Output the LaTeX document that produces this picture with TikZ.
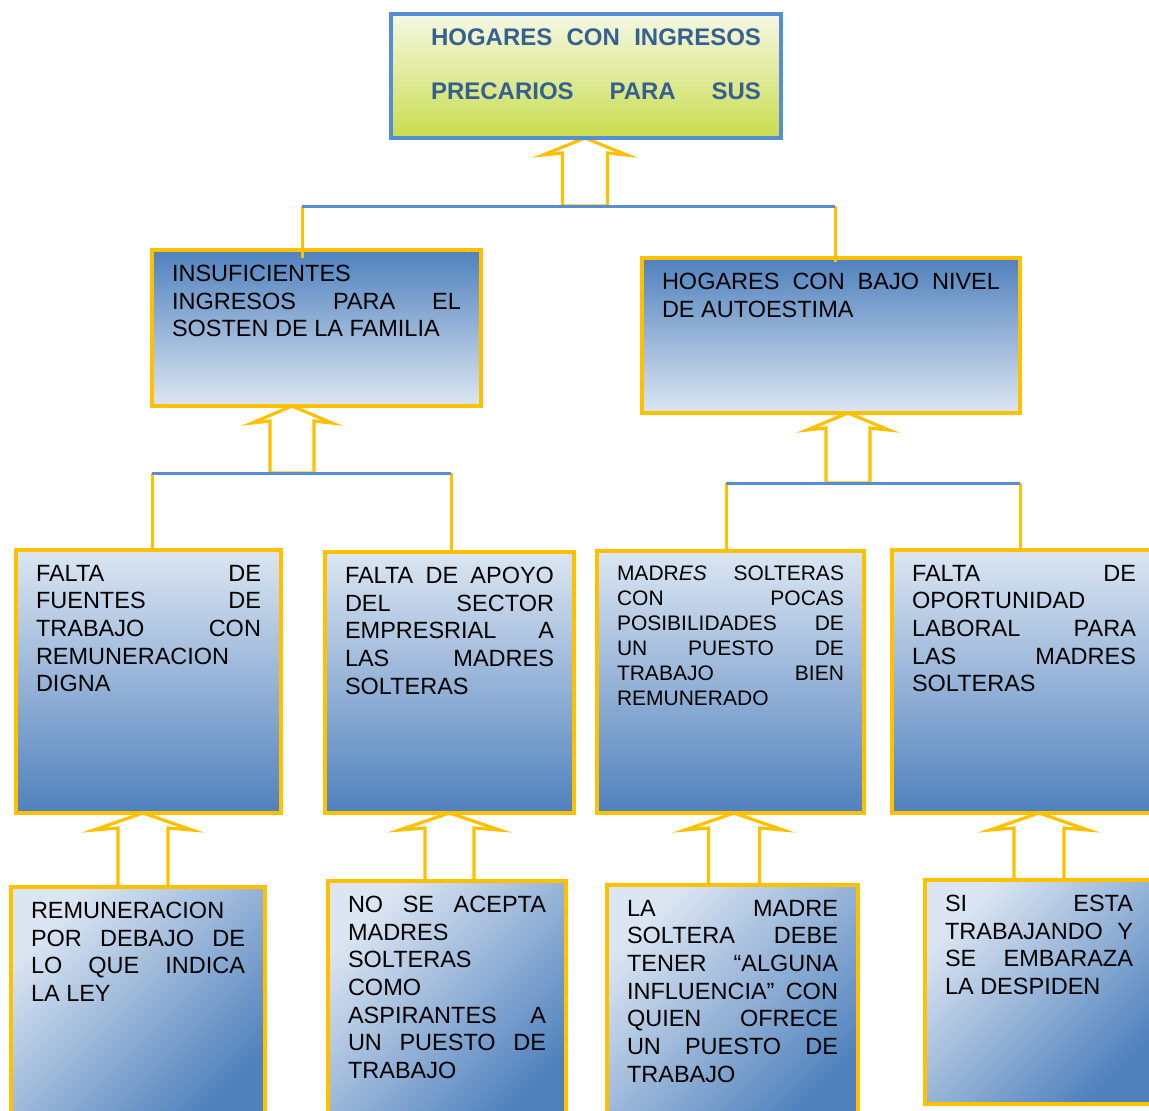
\documentclass[tikz,border=0pt]{standalone}
\usepackage{fontspec}
\setmainfont{Liberation Sans}
\usepackage{tikz}
\usetikzlibrary{backgrounds,positioning,calc}
\definecolor{oro}{HTML}{FFC000}
\definecolor{azulborde}{HTML}{558ED5}
\definecolor{azulfuerte}{HTML}{4F81BD}
\definecolor{azulclaro}{HTML}{DCE6F2}
\definecolor{verdeclaro}{HTML}{F5F8E4}
\definecolor{verdefuerte}{HTML}{C9DD4E}
\definecolor{titulotexto}{HTML}{376092}
\tikzstyle{caja}=[draw=oro, line width=3.5pt, inner xsep=20pt, inner ysep=15pt, outer sep=0pt, anchor=north west, font=\fontsize{23.5}{27.7}\selectfont]
\tikzstyle{titulo}=[caja, draw=azulborde, top color=verdeclaro, bottom color=verdefuerte, text=titulotexto, font=\bfseries\fontsize{24}{54}\selectfont]
\tikzstyle{nivelA}=[caja, top color=azulfuerte, bottom color=azulclaro]
\tikzstyle{nivelB}=[caja, top color=azulclaro, bottom color=azulfuerte]
\tikzstyle{nivelC}=[caja, top color=azulclaro, bottom color=azulfuerte, shading angle=45]
\tikzstyle{barra}=[draw=azulborde, line width=3pt]
\tikzstyle{rama}=[draw=oro, line width=3pt]
\tikzstyle{flecha}=[draw=oro, line width=3.2pt, fill=white]
\newcommand{\textocaja}[3]{\parbox[t][#2pt][t]{#1pt}{\hyphenpenalty=10000\tolerance=10000\hbadness=10000 #3}}
\newcommand{\flechaup}[4]{
	\draw[flecha] (#1) -- ++(#3,17) -- ($(#1)+(#4,15)$) -- ($(#1 |- #2)+(#4,0)$) -- ($(#1 |- #2)+(-#4,0)$) -- ($(#1)+(-#4,15)$) -- ($(#1)+(-#3,17)$) -- cycle;
}

\begin{document}
\begin{tikzpicture}[x=1pt, y=-1pt]
      \useasboundingbox (0,0) rectangle (1149,1111);
      % 
      \node at (391,14) [titulo] (hogares) {\textocaja{350}{94}{\leftskip=20pt\parfillskip=0pt HOGARES CON INGRESOS\linebreak PRECARIOS PARA SUS}};
      %
      \node at (152,250) [nivelA] (insuficientes) {\textocaja{289}{126}{INSUFICIENTES\linebreak INGRESOS PARA EL\linebreak SOSTEN DE LA FAMILIA}};
      \node at (642,258) [nivelA] (autoestima) {\textocaja{338}{125}{HOGARES CON BAJO NIVEL\linebreak DE AUTOESTIMA}};
      %
      \node at (16,550) [nivelB] (fuentes) {\textocaja{225}{233}{FALTA DE\linebreak FUENTES DE\linebreak TRABAJO CON\linebreak REMUNERACION\linebreak DIGNA}};
      \node at (325,552) [nivelB] (apoyo) {\textocaja{209}{231}{FALTA DE APOYO\linebreak DEL SECTOR\linebreak EMPRESRIAL A\linebreak LAS MADRES\linebreak SOLTERAS}};
      \node at (597,551) [nivelB, font=\fontsize{21}{25}\selectfont] (posibilidades) {\textocaja{227}{232}{MADR\textit{ES} SOLTERAS\linebreak CON POCAS\linebreak POSIBILIDADES DE\linebreak UN PUESTO DE\linebreak TRABAJO BIEN\linebreak REMUNERADO}};
      \node at (892,550) [nivelB] (oportunidad) {\textocaja{224}{233}{FALTA DE\linebreak OPORTUNIDAD\linebreak LABORAL PARA\linebreak LAS MADRES\linebreak SOLTERAS}};
      %
      \node at (11,887) [nivelC] (remuneracion) {\textocaja{214}{208}{REMUNERACION\linebreak POR DEBAJO DE\linebreak LO QUE INDICA\linebreak LA LEY}};
      \node at (328,881) [nivelC] (aspirantes) {\textocaja{198}{214}{NO SE ACEPTA\linebreak MADRES\linebreak SOLTERAS\linebreak COMO\linebreak ASPIRANTES A\linebreak UN PUESTO DE\linebreak TRABAJO}};
      \node at (607,885) [nivelC] (influencia) {\textocaja{211}{210}{LA MADRE\linebreak SOLTERA DEBE\linebreak TENER “ALGUNA\linebreak INFLUENCIA” CON\linebreak QUIEN OFRECE\linebreak UN PUESTO DE\linebreak TRABAJO}};
      \node at (925,880) [nivelC] (despiden) {\textocaja{188}{194}{SI ESTA\linebreak TRABAJANDO Y\linebreak SE EMBARAZA\linebreak LA DESPIDEN}};
      %
      \coordinate (b0l) at (302,206);
      \coordinate (b0r) at (835,206);
      \coordinate (b1l) at (152,473);
      \coordinate (b1r) at (451,473);
      \coordinate (b2l) at (726,483);
      \coordinate (b2r) at (1020,483);
      \coordinate (p0) at ([xshift=-1pt]hogares.south);
      \coordinate (p1) at ([xshift=-24.5pt]insuficientes.south);
      \coordinate (p2) at ([xshift=17pt]autoestima.south);
      \coordinate (p3) at ([xshift=-5.5pt]fuentes.south);
      \coordinate (p4) at (apoyo.south);
      \coordinate (p5) at ([xshift=3.5pt]posibilidades.south);
      \coordinate (p6) at ([xshift=15pt]oportunidad.south);
      %
      \draw[rama] (b0l) -- ($(b0l |- insuficientes.north)+(0,8)$);
      \draw[rama] (b0r) -- ($(b0r |- autoestima.north)+(0,4)$);
      \draw[barra] (b0l) -- (b0r);
      \draw[rama] (b1l) -- (b1l |- fuentes.north);
      \draw[rama] (b1r) -- (b1r |- apoyo.north);
      \draw[barra] (b1l) -- (b1r);
      \draw[rama] (b2l) -- (b2l |- posibilidades.north);
      \draw[rama] (b2r) -- (b2r |- oportunidad.north);
      \draw[barra] (b2l) -- (b2r);
      %
      \begin{pgfonlayer}{background}
      \flechaup{p0}{b0l}{42}{22.5}
      \flechaup{p1}{b1l}{40}{22}
      \flechaup{p2}{b2l}{41}{22}
      \flechaup{p3}{remuneracion.north}{49}{25}
      \flechaup{p4}{aspirantes.north}{50}{24.5}
      \flechaup{p5}{influencia.north}{49}{25.5}
      \flechaup{p6}{despiden.north}{49}{25}
      \end{pgfonlayer}
\end{tikzpicture}
\end{document}
